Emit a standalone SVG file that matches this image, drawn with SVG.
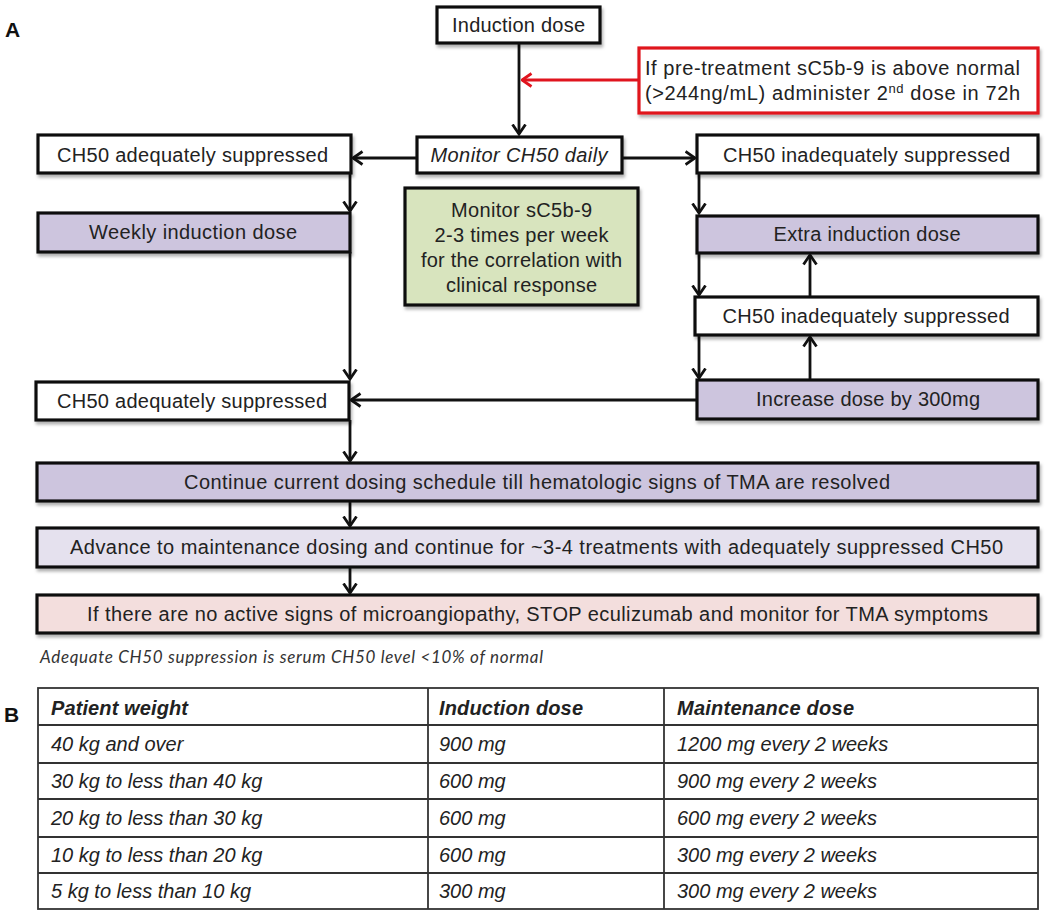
<svg xmlns="http://www.w3.org/2000/svg" width="1050" height="913" viewBox="0 0 1050 913">
<defs>
<style>
.box{stroke:#111;stroke-width:3.2;filter:url(#sh)}
.w{fill:#fff}.p{fill:#cdc5de}.lp{fill:#e5e1ee}.pk{fill:#f3dedd}.g{fill:#d8e4be}
.t{font-family:"Liberation Sans",Arial,sans-serif;font-size:20px;fill:#222;text-anchor:middle}
.it{font-style:italic}
.c{fill:none;stroke:#111;stroke-width:2.8}
.tb{font-family:"Liberation Sans",Arial,sans-serif;font-size:20px;fill:#222;font-style:italic}
.hd{font-weight:bold}
.gl{stroke:#333;stroke-width:1.8;fill:none}
.lbl{font-family:"Liberation Sans",Arial,sans-serif;font-size:21px;font-weight:bold;fill:#111}
</style>
<filter id="sh" x="-5%" y="-20%" width="110%" height="150%">
<feDropShadow dx="1.5" dy="3" stdDeviation="1.5" flood-color="#000" flood-opacity="0.3"/>
</filter>
<marker id="a" markerUnits="userSpaceOnUse" viewBox="0 0 12 16" refX="10.5" refY="8" markerWidth="12" markerHeight="16" orient="auto">
<path d="M1,1.5 L10.5,8 L1,14.5" fill="none" stroke="#111" stroke-width="2.8"/>
</marker>
<marker id="ar" markerUnits="userSpaceOnUse" viewBox="0 0 12 16" refX="10.5" refY="8" markerWidth="12" markerHeight="16" orient="auto">
<path d="M1,1.5 L10.5,8 L1,14.5" fill="none" stroke="#e0141e" stroke-width="2.8"/>
</marker>
</defs>
<rect width="1050" height="913" fill="#fff"/>
<text class="lbl" x="5" y="37">A</text>
<text class="lbl" x="4" y="722">B</text>

<g id="connectors">
<path class="c" d="M519,43 V134" marker-end="url(#a)"/>
<path d="M639,80 H522" fill="none" stroke="#e0141e" stroke-width="2.8" marker-end="url(#ar)"/>
<path class="c" d="M417,158 H353" marker-end="url(#a)"/>
<path class="c" d="M622,158 H695" marker-end="url(#a)"/>
<path class="c" d="M350,173 V211" marker-end="url(#a)"/>
<path class="c" d="M350,252 V379" marker-end="url(#a)"/>
<path class="c" d="M699,173 V213" marker-end="url(#a)"/>
<path class="c" d="M699,253 V295" marker-end="url(#a)"/>
<path class="c" d="M699,335 V378" marker-end="url(#a)"/>
<path class="c" d="M810,297 V255" marker-end="url(#a)"/>
<path class="c" d="M810,380 V337" marker-end="url(#a)"/>
<path class="c" d="M697,400 H351" marker-end="url(#a)"/>
<path class="c" d="M350,420 V461" marker-end="url(#a)"/>
<path class="c" d="M350,501 V526" marker-end="url(#a)"/>
<path class="c" d="M350,567 V593" marker-end="url(#a)"/>
</g>

<g id="induction">
<rect class="box w" x="437" y="7" width="163" height="36"/>
<text class="t" x="518.5" y="32" textLength="133" lengthAdjust="spacing">Induction dose</text>
</g>
<g id="pretreatment">
<rect x="639" y="48" width="399" height="65" fill="#fff" stroke="#e0141e" stroke-width="3.2" filter="url(#sh)"/>
<text class="t" x="832.5" y="75" textLength="375" lengthAdjust="spacing">If pre-treatment sC5b-9 is above normal</text>
<text class="t" x="832.5" y="100" textLength="375" lengthAdjust="spacing">(&gt;244ng/mL) administer 2<tspan font-size="13" dy="-7">nd</tspan><tspan dy="7"> dose in 72h</tspan></text>
</g>
<g id="monitor-ch50">
<rect class="box w" x="417" y="137" width="205" height="36"/>
<text class="t it" x="519" y="161.5" textLength="177" lengthAdjust="spacing">Monitor CH50 daily</text>
</g>
<g id="ch50-adequate-1">
<rect class="box w" x="38" y="135" width="313" height="38"/>
<text class="t" x="192.5" y="161.5" textLength="271" lengthAdjust="spacing">CH50 adequately suppressed</text>
</g>
<g id="ch50-inadequate-1">
<rect class="box w" x="697" y="135" width="341" height="38"/>
<text class="t" x="866.5" y="161.5" textLength="287" lengthAdjust="spacing">CH50 inadequately suppressed</text>
</g>
<g id="weekly-induction">
<rect class="box p" x="38" y="213" width="312" height="39"/>
<text class="t" x="193" y="239" textLength="208" lengthAdjust="spacing">Weekly induction dose</text>
</g>
<g id="monitor-sc5b9">
<rect class="box g" x="405" y="188" width="233" height="117"/>
<text class="t" x="521.5" y="217" textLength="141" lengthAdjust="spacing">Monitor sC5b-9</text>
<text class="t" x="521.5" y="242" textLength="174" lengthAdjust="spacing">2-3 times per week</text>
<text class="t" x="521.5" y="267" textLength="201" lengthAdjust="spacing">for the correlation with</text>
<text class="t" x="521.5" y="292" textLength="151" lengthAdjust="spacing">clinical response</text>
</g>
<g id="extra-induction">
<rect class="box p" x="697" y="216" width="341" height="37"/>
<text class="t" x="867" y="241" textLength="187" lengthAdjust="spacing">Extra induction dose</text>
</g>
<g id="ch50-inadequate-2">
<rect class="box w" x="695" y="297" width="343" height="38"/>
<text class="t" x="866" y="323" textLength="287" lengthAdjust="spacing">CH50 inadequately suppressed</text>
</g>
<g id="increase-dose">
<rect class="box p" x="697" y="380" width="341" height="39"/>
<text class="t" x="868" y="406" textLength="224" lengthAdjust="spacing">Increase dose by 300mg</text>
</g>
<g id="ch50-adequate-2">
<rect class="box w" x="36" y="382" width="313" height="38"/>
<text class="t" x="192" y="408" textLength="270" lengthAdjust="spacing">CH50 adequately suppressed</text>
</g>
<g id="continue">
<rect class="box p" x="37" y="463" width="1001" height="38"/>
<text class="t" x="537" y="489" textLength="706" lengthAdjust="spacing">Continue current dosing schedule till hematologic signs of TMA are resolved</text>
</g>
<g id="advance">
<rect class="box lp" x="37" y="528" width="1001" height="39"/>
<text class="t" x="536.5" y="554" textLength="933" lengthAdjust="spacing">Advance to maintenance dosing and continue for ~3-4 treatments with adequately suppressed CH50</text>
</g>
<g id="stop">
<rect class="box pk" x="37" y="595" width="1001" height="38"/>
<text class="t" x="537.5" y="621" textLength="901" lengthAdjust="spacing">If there are no active signs of microangiopathy, STOP eculizumab and monitor for TMA symptoms</text>
</g>
<text x="40" y="663" font-family="Lato,'Open Sans',sans-serif" font-style="italic" font-size="17" fill="#333" textLength="503" lengthAdjust="spacing">Adequate CH50 suppression is serum CH50 level &lt;10% of normal</text>

<g id="table">
<rect class="gl" x="38" y="688" width="1000" height="221"/>
<path class="gl" d="M38,725 H1038 M38,763 H1038 M38,799 H1038 M38,837 H1038 M38,873 H1038 M428,688 V909 M664,688 V909"/>
<text class="tb hd" x="51" y="715" textLength="137" lengthAdjust="spacing">Patient weight</text>
<text class="tb hd" x="439" y="715" textLength="144" lengthAdjust="spacing">Induction dose</text>
<text class="tb hd" x="677" y="715" textLength="177" lengthAdjust="spacing">Maintenance dose</text>
<text class="tb" x="51" y="751">40 kg and over</text>
<text class="tb" x="439" y="751">900 mg</text>
<text class="tb" x="677" y="751">1200 mg every 2 weeks</text>
<text class="tb" x="51" y="788">30 kg to less than 40 kg</text>
<text class="tb" x="439" y="788">600 mg</text>
<text class="tb" x="677" y="788">900 mg every 2 weeks</text>
<text class="tb" x="51" y="825">20 kg to less than 30 kg</text>
<text class="tb" x="439" y="825">600 mg</text>
<text class="tb" x="677" y="825">600 mg every 2 weeks</text>
<text class="tb" x="51" y="862">10 kg to less than 20 kg</text>
<text class="tb" x="439" y="862">600 mg</text>
<text class="tb" x="677" y="862">300 mg every 2 weeks</text>
<text class="tb" x="51" y="898">5 kg to less than 10 kg</text>
<text class="tb" x="439" y="898">300 mg</text>
<text class="tb" x="677" y="898">300 mg every 2 weeks</text>
</g>
</svg>
